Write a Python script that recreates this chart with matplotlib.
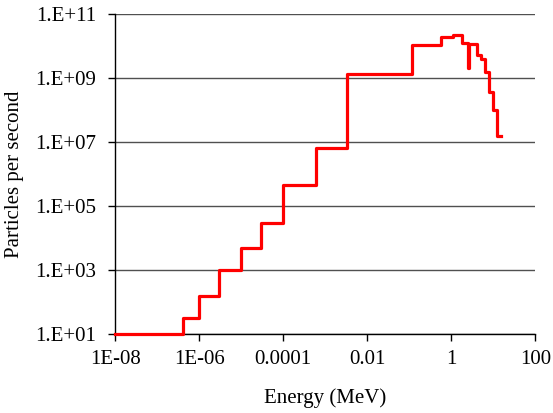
import math
import matplotlib.pyplot as plt
from matplotlib.ticker import FixedLocator, FuncFormatter

# energy bin edges (MeV) and particles per second in each bin
energy = [1e-8, 4e-7, 1e-6, 3e-6, 1e-5, 3e-5, 1e-4, 6e-4, 3.3e-3,
          0.114, 0.56, 1.08, 1.8, 2.5, 2.6, 4.16, 5.1, 6.3, 8.0, 9.7, 12.4, 15.0]
flux = [10, 32, 160, 1050, 5.0e3, 2.9e4, 4.7e5, 6.5e6, 1.35e9,
        1.1e10, 1.9e10, 2.2e10, 1.25e10, 2.1e9, 1.15e10, 5.4e9, 4.0e9,
        1.6e9, 3.8e8, 1.0e8, 1.6e7, 1.6e7]

x_ticks = [1e-8, 1e-6, 1e-4, 1e-2, 1, 100]
x_labels = ['1E-08', '1E-06', '0.0001', '0.01', '1', '100']
y_ticks = [1e1, 1e3, 1e5, 1e7, 1e9, 1e11]

plt.rcParams['font.family'] = ['Liberation Serif', 'DejaVu Serif']

fig = plt.figure(figsize=(5.53, 4.13), dpi=100)
ax = fig.add_axes([0.2085, 0.1906, 0.968 - 0.2085, 0.9654 - 0.1906])

ax.plot(energy, flux, drawstyle='steps-post', color='#ff0000', lw=2.3,
        zorder=3, clip_on=False)

ax.set_xscale('log')
ax.set_yscale('log')
ax.set_xlim(1e-8, 100)
ax.set_ylim(1e1, 1e11)

ax.xaxis.set_major_locator(FixedLocator(x_ticks))
ax.xaxis.set_major_formatter(FuncFormatter(lambda v, p: x_labels[x_ticks.index(v)] if v in x_ticks else ''))
ax.xaxis.set_minor_locator(FixedLocator([]))
ax.yaxis.set_major_locator(FixedLocator(y_ticks))
ax.yaxis.set_major_formatter(FuncFormatter(lambda v, p: '1.E+%02d' % round(math.log10(v))))
ax.yaxis.set_minor_locator(FixedLocator([]))

ax.tick_params(axis='both', direction='out', length=5, width=1, labelsize=15, colors='black')
ax.tick_params(axis='x', pad=6)
ax.tick_params(axis='y', pad=9)

ax.grid(axis='y', color='#505050', lw=1)
ax.set_axisbelow(True)
for s in ['top', 'right']:
    ax.spines[s].set_visible(False)
for s in ['left', 'bottom']:
    ax.spines[s].set_linewidth(1)

ax.set_xlabel('Energy (MeV)', fontsize=15, labelpad=14)
ax.set_ylabel('Particles per second', fontsize=15, labelpad=8)

fig.savefig('out.png', dpi=100)
